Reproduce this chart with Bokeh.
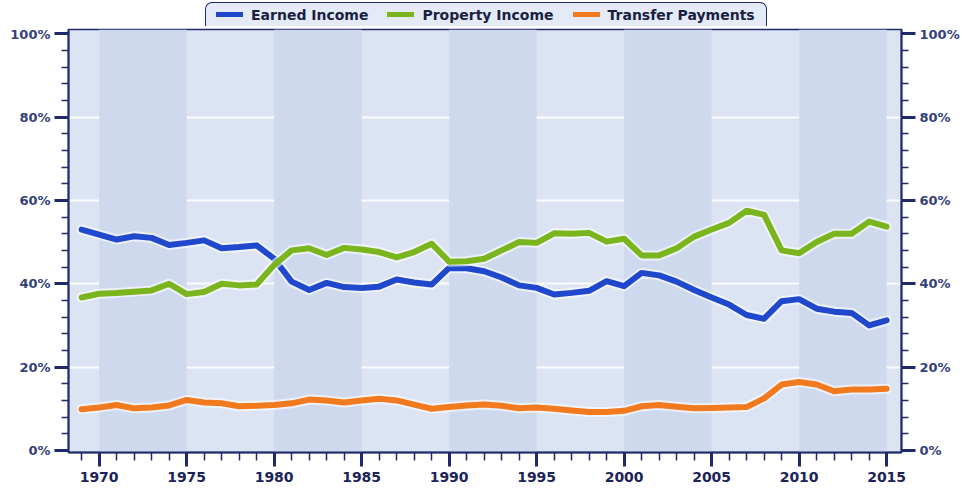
from bokeh.plotting import figure
from bokeh.models import (LinearAxis, SingleIntervalTicker, FixedTicker, PrintfTickFormatter,
                          BoxAnnotation, Range1d, ColumnDataSource, Div)
from bokeh.layouts import column
from bokeh.embed import file_html
from bokeh.resources import INLINE

years = list(range(1969, 2016))
earned = [53.0, 51.8, 50.6, 51.4, 51.0, 49.3, 49.8, 50.4, 48.5, 48.8,
          49.2, 46.0, 40.5, 38.5, 40.2, 39.2, 39.0, 39.3, 41.0, 40.3,
          39.8, 43.8, 43.7, 43.0, 41.5, 39.6, 39.0, 37.4, 37.8, 38.3,
          40.6, 39.4, 42.6, 42.0, 40.5, 38.5, 36.7, 35.0, 32.5, 31.6,
          35.8, 36.3, 34.0, 33.3, 33.0, 30.0, 31.2]
property_income = [36.7, 37.6, 37.8, 38.1, 38.4, 40.0, 37.5, 38.0, 40.0, 39.6,
                   39.8, 44.5, 48.0, 48.5, 46.9, 48.6, 48.2, 47.6, 46.3, 47.6,
                   49.6, 45.3, 45.4, 46.0, 48.0, 50.0, 49.8, 52.1, 52.0, 52.2,
                   50.1, 50.8, 46.8, 46.8, 48.5, 51.3, 53.0, 54.6, 57.5, 56.5,
                   48.0, 47.3, 50.0, 52.0, 52.0, 54.9, 53.7]
transfer = [9.9, 10.3, 10.9, 10.1, 10.3, 10.8, 12.1, 11.5, 11.3, 10.6,
            10.7, 10.9, 11.3, 12.2, 12.0, 11.5, 12.0, 12.4, 12.0, 11.0,
            10.0, 10.4, 10.8, 11.0, 10.7, 10.1, 10.3, 10.0, 9.6, 9.2,
            9.2, 9.5, 10.6, 10.9, 10.5, 10.1, 10.2, 10.3, 10.4, 12.5,
            15.8, 16.4, 15.8, 14.2, 14.6, 14.6, 14.8]

series_names = ["Earned Income", "Property Income", "Transfer Payments"]
series_colors = ["#1f48cc", "#7ab51d", "#f27a1e"]
band_starts = [1970, 1980, 1990, 2000, 2010]
band_span = 5
grid_values = [20, 40, 60, 80]

NAVY = "#1f2a6b"
LIGHT = "#dce4f3"
DARK = "#cfd9ed"

# ---- legend tab (HTML) ----
items_html = "".join(
    '<span style="display:inline-flex;align-items:center;margin-right:19px;">'
    f'<span style="display:inline-block;width:27px;height:5px;background:{c};margin-right:8px;"></span>'
    f'<span>{n}</span></span>'
    for n, c in zip(series_names, series_colors)
)
legend_html = (
    '<div style="position:relative;width:962px;height:26px;">'
    '<div style="position:absolute;left:205px;top:2px;width:562px;height:24px;box-sizing:border-box;'
    f'border:1.5px solid {NAVY};border-bottom:none;border-radius:7px 7px 0 0;background:#e4eaf6;'
    'display:flex;align-items:center;padding-left:10px;white-space:nowrap;'
    'font-family:\'DejaVu Sans\';font-weight:bold;font-size:14px;color:#1a1f40;">'
    f'{items_html}</div></div>'
)
legend_div = Div(text=legend_html, width=962, height=26, margin=0)

# ---- chart ----
p = figure(width=962, height=465, x_range=Range1d(1968.25, 2015.85),
           y_range=Range1d(-0.5, 101), output_backend="svg", toolbar_location=None,
           min_border_left=68, min_border_right=60, min_border_top=3, min_border_bottom=39,
           background_fill_color=LIGHT, border_fill_color="white", margin=0)
p.outline_line_color = NAVY
p.outline_line_width = 1.5

for b in band_starts:
    p.add_layout(BoxAnnotation(left=b, right=b + band_span, fill_color=DARK, fill_alpha=1.0,
                               line_color=None, level="underlay"))

p.xgrid.grid_line_color = None
p.ygrid.ticker = FixedTicker(ticks=grid_values)
p.ygrid.grid_line_color = "white"
p.ygrid.grid_line_width = 2
p.ygrid.grid_line_alpha = 0.9

src = ColumnDataSource(dict(x=years, e=earned, p=property_income, t=transfer))
for key, col in zip(["e", "p", "t"], series_colors):
    p.line("x", key, source=src, line_color="white", line_width=10, line_alpha=0.6,
           line_join="round", line_cap="round")
    p.line("x", key, source=src, line_color=col, line_width=6,
           line_join="round", line_cap="round")

def style_axis(ax, size, color, standoff):
    ax.axis_line_color = NAVY
    ax.axis_line_width = 2
    ax.major_tick_line_color = NAVY
    ax.major_tick_line_width = 3
    ax.minor_tick_line_color = NAVY
    ax.minor_tick_line_width = 1.5
    ax.major_tick_in = 0
    ax.minor_tick_in = 0
    ax.major_label_text_font = "DejaVu Sans"
    ax.major_label_text_font_style = "bold"
    ax.major_label_text_font_size = size
    ax.major_label_text_color = color
    ax.major_label_standoff = standoff

xa = p.xaxis[0]
xa.ticker = SingleIntervalTicker(interval=5, num_minor_ticks=5)
style_axis(xa, "14px", "#1b2458", 5)
xa.major_tick_out = 14
xa.minor_tick_out = 8

ya = p.yaxis[0]
ya.ticker = SingleIntervalTicker(interval=20, num_minor_ticks=5)
ya.formatter = PrintfTickFormatter(format="%d%%")
style_axis(ya, "13px", "#34417c", 4)
ya.major_tick_out = 14
ya.minor_tick_out = 7

ra = LinearAxis(ticker=SingleIntervalTicker(interval=20, num_minor_ticks=5),
                formatter=PrintfTickFormatter(format="%d%%"))
style_axis(ra, "13px", "#34417c", 4)
ra.major_tick_out = 14
ra.minor_tick_out = 7
p.add_layout(ra, "right")

layout = column(legend_div, p, spacing=0)
open("out.html", "w").write(file_html(layout, INLINE))
